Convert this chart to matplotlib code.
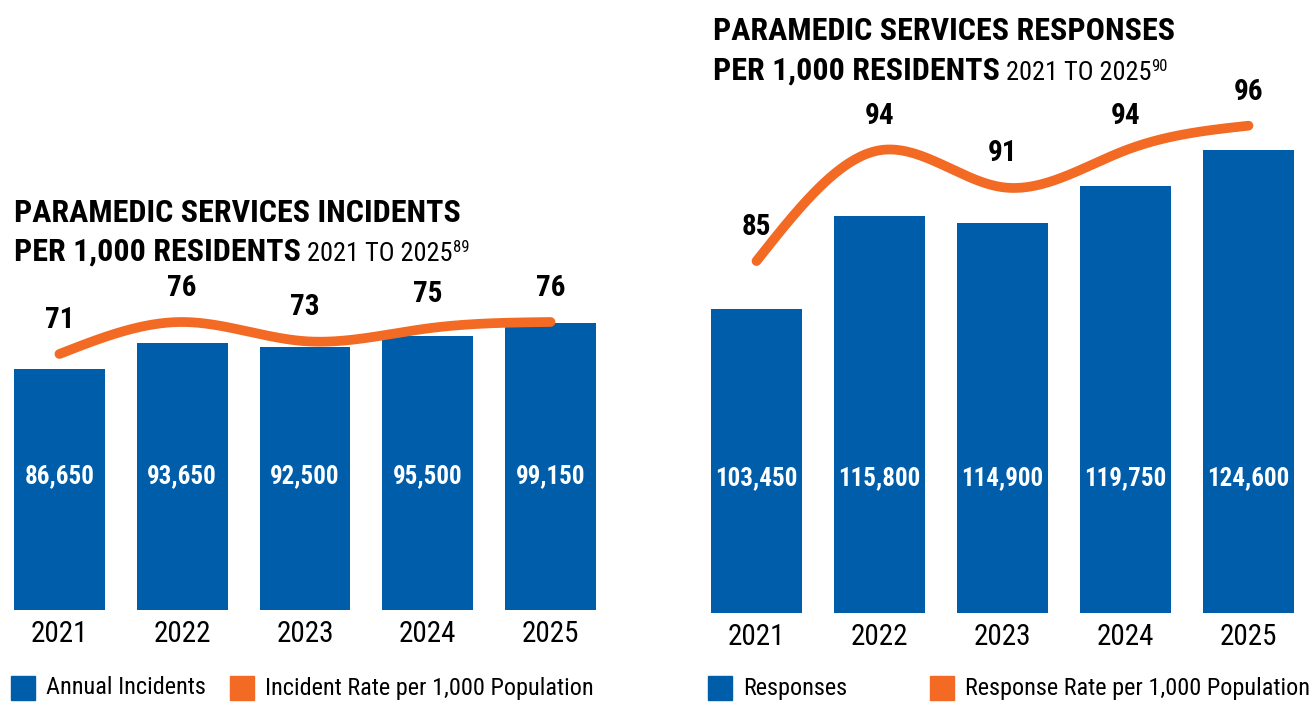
import matplotlib
matplotlib.use("Agg")
import matplotlib.pyplot as plt
import matplotlib.font_manager as fm
import matplotlib.transforms as mtransforms
from matplotlib.patches import Rectangle
import numpy as np

# ---- data ----
years = ["2021", "2022", "2023", "2024", "2025"]
incidents = [86650, 93650, 92500, 95500, 99150]
incident_rate = [71, 76, 73, 75, 76]
responses = [103450, 115800, 114900, 119750, 124600]
response_rate = [85, 94, 91, 94, 96]

BLUE = "#005DA9"
ORANGE = "#F26A23"
W, H = 1316, 705


def _pick_font(bold):
    """Find a condensed / narrow face if one is installed."""
    wanted = ["RobotoCondensed", "LiberationSansNarrow", "NotoSans-Condensed",
              "DejaVuSansCondensed", "OpenSans_Condensed", "OpenSansCondensed"]
    for key in wanted:
        for f in fm.fontManager.ttflist:
            fname = f.fname.replace(" ", "")
            if key not in fname:
                continue
            w = f.weight if isinstance(f.weight, int) else fm.weight_dict.get(f.weight, 400)
            if f.style != "normal":
                continue
            if bold and w == 700:
                return fm.FontProperties(fname=f.fname)
            if not bold and w == 400:
                return fm.FontProperties(fname=f.fname)
    return fm.FontProperties(family="DejaVu Sans", weight="bold" if bold else "normal")


BOLD = _pick_font(True)
REG = _pick_font(False)


def fp(base, size):
    p = base.copy()
    p.set_size(size)
    return p


def _smooth(xs, ys, n=300):
    # natural cubic spline, only used to draw the curved rate line
    x = np.asarray(xs, float)
    y = np.asarray(ys, float)
    k = len(x)
    h = np.diff(x)
    A = np.zeros((k, k))
    r = np.zeros(k)
    A[0, 0] = A[-1, -1] = 1
    for i in range(1, k - 1):
        A[i, i - 1] = h[i - 1]
        A[i, i] = 2 * (h[i - 1] + h[i])
        A[i, i + 1] = h[i]
        r[i] = 3 * ((y[i + 1] - y[i]) / h[i] - (y[i] - y[i - 1]) / h[i - 1])
    c = np.linalg.solve(A, r)
    b = (y[1:] - y[:-1]) / h - h * (2 * c[:-1] + c[1:]) / 3
    d = (c[1:] - c[:-1]) / (3 * h)
    xx = np.linspace(x[0], x[-1], n)
    idx = np.clip(np.searchsorted(x, xx) - 1, 0, k - 2)
    dx = xx - x[idx]
    return xx, y[idx] + b[idx] * dx + c[idx] * dx ** 2 + d[idx] * dx ** 3


def _axes_px(fig, left, right, top, bottom):
    return fig.add_axes([left / W, (H - bottom) / H, (right - left) / W, (bottom - top) / H])


def _panel(fig, box, values, rates, vlim, rlim, inside_y):
    ax = _axes_px(fig, *box)
    ax.patch.set_visible(False)
    x = np.arange(len(years))
    ax.bar(x, values, width=0.741, color=BLUE, zorder=2)
    ax.set_xlim(-0.37, len(years) - 1 + 0.37)
    ax.set_ylim(*vlim)
    for s in ax.spines.values():
        s.set_visible(False)
    ax.set_yticks([])
    ax.set_xticks(x)
    ax.set_xticklabels(years)
    for lab in ax.get_xticklabels():
        lab.set_fontproperties(fp(REG, 21))
    ax.tick_params(axis="x", length=0, pad=7)

    trans = mtransforms.blended_transform_factory(ax.transData, ax.transAxes)
    for xi, v in zip(x, values):
        ax.text(xi, inside_y, f"{v:,}", transform=trans, ha="center", va="center",
                color="white", fontproperties=fp(BOLD, 18), zorder=3)

    ax2 = ax.twinx()
    ax2.set_ylim(*rlim)
    ax2.axis("off")
    xx, yy = _smooth(x, rates)
    ax2.plot(xx, yy, color=ORANGE, lw=7, solid_capstyle="round", zorder=4)
    for xi, r in zip(x, rates):
        ax2.annotate(str(r), (xi, r), xytext=(0, 34), textcoords="offset pixels",
                     ha="center", va="center", fontproperties=fp(BOLD, 21))
    return ax


def _title(bg, x, y1, y2, line1, rest, note):
    bg.text(x, y1, line1, transform=None, fontproperties=fp(BOLD, 23), va="baseline")
    t = bg.text(x, y2, "PER 1,000 RESIDENTS", transform=None,
                fontproperties=fp(BOLD, 23), va="baseline")
    t2 = bg.annotate(" " + rest, xy=(1, y2), xycoords=(t, "figure pixels"),
                     fontproperties=fp(REG, 19), va="baseline")
    bg.annotate(note, xy=(1, y2 + 9), xycoords=(t2, "figure pixels"),
                fontproperties=fp(REG, 12), va="baseline")


def _legend(bg, x, y, label, color, text_dx=35):
    bg.add_patch(Rectangle((x, y - 12), 24, 24, transform=None, color=color))
    bg.text(x + text_dx, y, label, transform=None, va="center",
            fontproperties=fp(REG, 17.5))


fig = plt.figure(figsize=(W / 100, H / 100), dpi=100)

# left panel: incidents
_panel(fig, (14, 596, 250, 610), incidents, incident_rate,
       (20500, 119130), (31, 87.25), 0.372)
# right panel: responses
_panel(fig, (711, 1294, 90, 613), responses, response_rate,
       (63000, 132548), (56.4, 98.9), 0.258)

bg = fig.add_axes([0, 0, 1, 1], zorder=10)
bg.axis("off")

_title(bg, 14, H - 222, H - 261, "PARAMEDIC SERVICES INCIDENTS", "2021 TO 2025", "89")
_title(bg, 713, H - 40, H - 80, "PARAMEDIC SERVICES RESPONSES", "2021 TO 2025", "90")

_legend(bg, 11, H - 688, "Annual Incidents", BLUE)
_legend(bg, 230, H - 688, "Incident Rate per 1,000 Population", ORANGE)
_legend(bg, 708, H - 688, "Responses", BLUE)
_legend(bg, 930, H - 688, "Response Rate per 1,000 Population", ORANGE)

fig.savefig("out.png", dpi=100, facecolor="white")
